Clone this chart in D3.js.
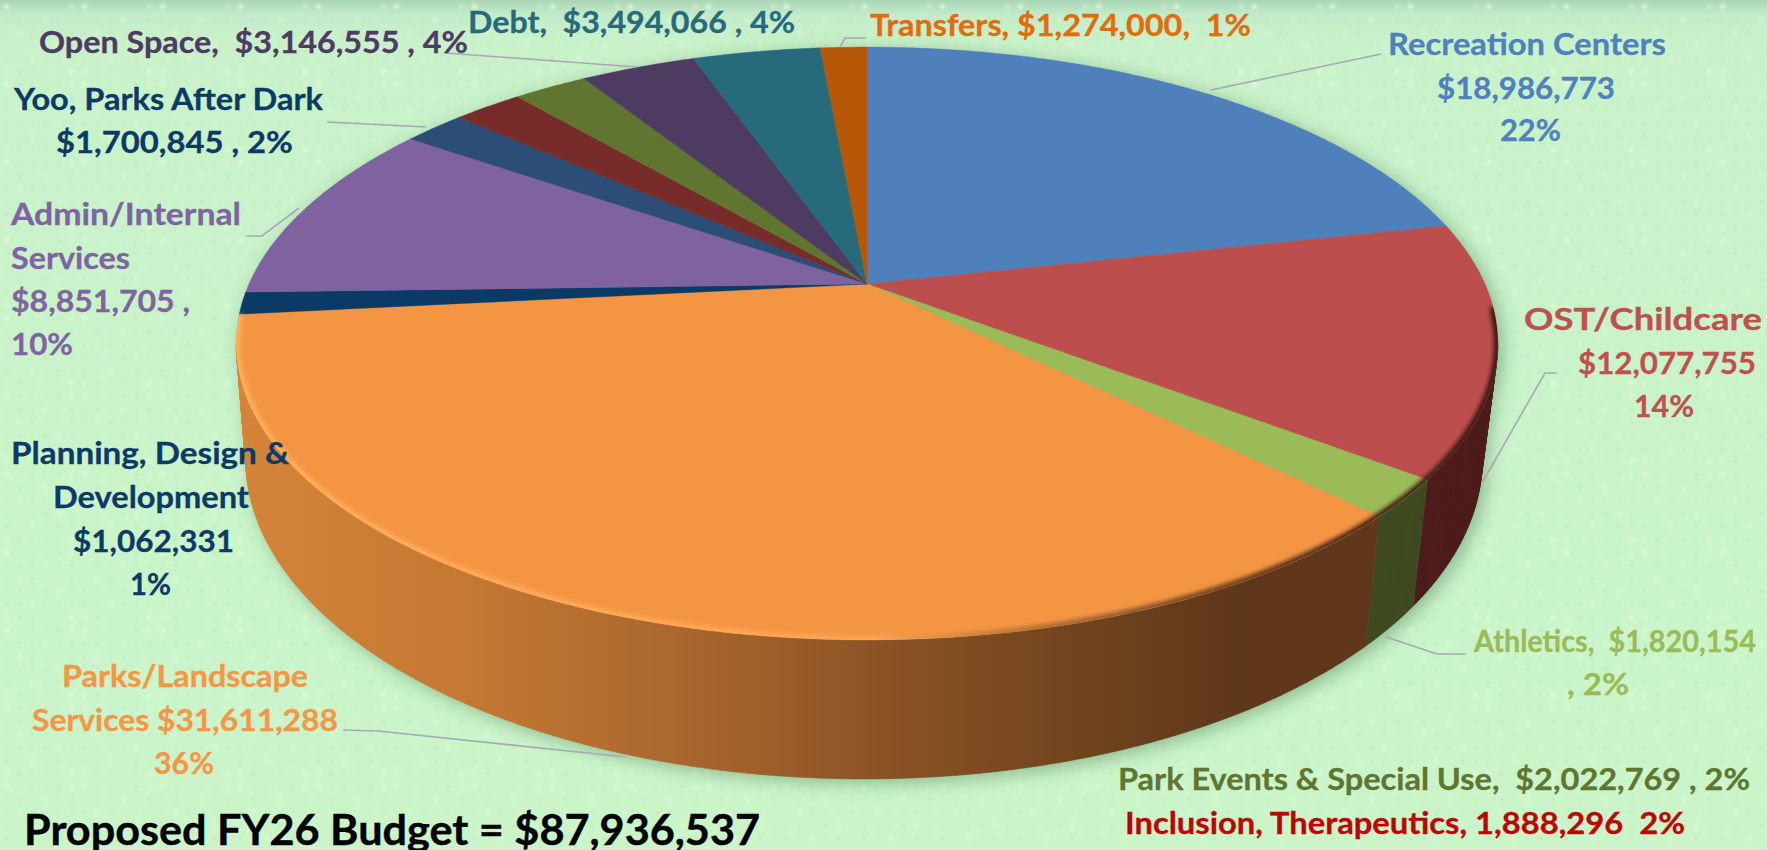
<!DOCTYPE html>
<html><head><meta charset="utf-8">
<script src="https://cdn.jsdelivr.net/npm/d3@7/dist/d3.min.js"></script>
<style>html,body{margin:0;padding:0;overflow:hidden;background:#c9f4c9}svg{display:block}text{font-family:Lato,"Noto Sans",sans-serif;font-weight:700}</style>
</head><body><svg id="c" width="1767" height="850"></svg>
<script>
const categories=["Recreation Centers","OST/Childcare","Athletics","Parks/Landscape Services","Planning, Design & Development","Admin/Internal Services","Yoo, Parks After Dark","Inclusion, Therapeutics","Park Events & Special Use","Open Space","Debt","Transfers"];
const budget=[18986773,12077755,1820154,31611288,1062331,8851705,1700845,1888296,2022769,3146555,3494066,1274000];
const topColors=["#4f80bc","#bc4f4d","#9bbb59","#f49544","#0c3a66","#7f62a0","#2c4d75","#772c2a","#5f7530","#4d3b62","#276a7c","#b65708"];
const wallColors=["#2c4a6e","#4e1c1b","#3f4a20","url(#orangeWall)","#07233e","#4c3c61","#1a2e46","#471a19","#39461d","#2e233b","#17404a","#6d3405"];
// label lines: [text, left, right, baseline] in reference pixels
const labels=[
 {c:"#4f81bd",l:[["Recreation Centers",1388,1666,55],["$18,986,773",1437,1615,99],["22%",1500,1561,141]]},
 {c:"#c0504d",l:[["OST/Childcare",1524,1762,330],["$12,077,755",1578,1756,374],["14%",1634,1694,417]]},
 {c:"#9bbb59",l:[["Athletics,  $1,820,154",1474,1756,652],[", 2%",1567,1629,695]]},
 {c:"#5f7530",l:[["Park Events & Special Use,  $2,022,769 , 2%",1118,1750,790]]},
 {c:"#c00000",l:[["Inclusion, Therapeutics, 1,888,296  2%",1125,1685,834]]},
 {c:"#f79646",l:[["Parks/Landscape",62,308,687],["Services $31,611,288",32,338,731],["36%",154,214,774]]},
 {c:"#0c3a66",l:[["Planning, Design &",11,289,464],["Development",53,249,508],["$1,062,331",73,234,552],["1%",130,171,595]]},
 {c:"#8064a2",l:[["Admin/Internal",11,241,225],["Services",11,130,269],["$8,851,705 ,",11,190,312],["10%",11,73,355]]},
 {c:"#0c3a66",l:[["Yoo, Parks After Dark",14,323,110],["$1,700,845 , 2%",56,293,153]]},
 {c:"#4d3b62",l:[["Open Space,  $3,146,555 , 4%",39,468,53]]},
 {c:"#276a7c",l:[["Debt,  $3,494,066 , 4%",468,795,33]]},
 {c:"#e36c0a",l:[["Transfers, $1,274,000,  1%",870,1251,36]]}
];
const title=["Proposed FY26 Budget = $87,936,537",24,760,845];
const leaders=[
 [[1381,54],[1211,90]],[[1557,373],[1545,373],[1482,483]],[[1466,654],[1437,654],[1386,637]],
 [[343,730],[378,731],[626,757]],[[246,236],[262,236],[299,208]],[[327,122],[426,127]],
 [[446,53],[637,67]],[[866,38],[845,38],[840,47]]
];
const cx=867,cy=284,R=618,B=284.5,k=0.2007,D=139,floorScale=0.98,floorShift=-3;
const project=(t,z=0)=>{const u=Math.sin(t),v=-Math.cos(t),w=1-k*v;return [cx+z*floorShift+R*u/w*(1-z*(1-floorScale)),cy+B*v/w+z*D*(1-k)/w];};
const svg=d3.select("#c"),defs=svg.append("defs");
const bg=defs.append("linearGradient").attr("id","bg").attr("x1",0).attr("y1",0).attr("x2",0).attr("y2",1);
[[0,"#aad6b6"],[.018,"#c4ecca"],[.05,"#c9f2ca"],[1,"#cbf5c9"]].forEach(s=>bg.append("stop").attr("offset",s[0]).attr("stop-color",s[1]));
const pat=defs.append("pattern").attr("id","dots").attr("width",78).attr("height",78).attr("patternUnits","userSpaceOnUse");
d3.range(6).forEach(i=>d3.range(6).forEach(j=>pat.append("circle").attr("cx",6.5+i*13).attr("cy",6.5+j*13).attr("r",(i+j*2)%5==0?3:1.6).attr("fill",(i+j*2)%5==0?"#e2f9d2":"#b4e2bc").attr("opacity",(i*3+j)%4==0?.7:.35)));
const ow=defs.append("linearGradient").attr("id","orangeWall").attr("gradientUnits","userSpaceOnUse").attr("x1",250).attr("x2",1370).attr("y1",0).attr("y2",0);
[[0,"#d38439"],[.2,"#c37833"],[.42,"#a4632d"],[.57,"#8a5225"],[.75,"#6f431e"],[.88,"#5f371a"],[1,"#60371a"]].forEach(s=>ow.append("stop").attr("offset",s[0]).attr("stop-color",s[1]));
const rim=defs.append("linearGradient").attr("id","rim").attr("gradientUnits","userSpaceOnUse").attr("x1",250).attr("x2",1497).attr("y1",0).attr("y2",0);
[[0,"#ffb060"],[.5,"#ffa555"],[.6,"#c47a3a"],[.75,"#7a4a22"],[.9,"#4a2018"],[1,"#3a1512"]].forEach(s=>rim.append("stop").attr("offset",s[0]).attr("stop-color",s[1]));
defs.append("filter").attr("id","b2").append("feGaussianBlur").attr("stdDeviation",2);
const df=defs.append("filter").attr("id","b1");df.append("feGaussianBlur").attr("stdDeviation",.9);
const sf=defs.append("filter").attr("id","b9").attr("x","-10%").attr("y","-10%").attr("width","120%").attr("height","120%");sf.append("feGaussianBlur").attr("stdDeviation",9);
svg.append("rect").attr("width",1767).attr("height",850).attr("fill","url(#bg)");
svg.append("rect").attr("width",1767).attr("height",850).attr("fill","url(#dots)").attr("filter","url(#b1)");
const pie=d3.pie().sort(null).value(d=>d)(budget);
const line=d3.line();
const arcPts=(a,b,z=0)=>{const n=Math.max(2,Math.ceil((b-a)/0.01));return d3.range(n+1).map(i=>project(a+(b-a)*i/n,z));};
const full=Math.PI*2;
const wallA=Math.acos(-k),wallB=full-wallA;
const wallPath=(a,b)=>{const t=arcPts(a,b,0),f=arcPts(a,b,1);return d3.range(t.length-1).map(i=>line([t[i],t[i+1],f[i+1],f[i]])+"Z").join("");};
// soft shadow
const shadow=svg.append("g").attr("filter","url(#b9)").attr("opacity",.5).attr("transform","translate(5,4)");
shadow.append("path").attr("d",wallPath(wallA-.02,wallB+.02)).attr("fill","#4d7c55");
shadow.append("path").attr("d",line(arcPts(0,full,0))+"Z").attr("fill","#4d7c55");
// walls
pie.forEach((p,i)=>{
  const a=Math.max(p.startAngle,wallA),b=Math.min(p.endAngle,wallB);
  if(b<=a)return;
  svg.append("path").attr("d",wallPath(a,b)).attr("fill",wallColors[i]).attr("stroke",wallColors[i]).attr("stroke-width",.6);
});
// top
const topG=svg.append("g");
pie.forEach((p,i)=>{
  topG.append("path").attr("d",line([[cx,cy],...arcPts(p.startAngle,p.endAngle)])+"Z").attr("fill",topColors[i]).attr("stroke",topColors[i]).attr("stroke-width",.4);
});
// bevel
defs.append("clipPath").attr("id","tc").append("path").attr("d",line(arcPts(0,full))+"Z");
svg.append("g").attr("clip-path","url(#tc)").append("path").attr("d",line(arcPts(1.65,pie[3].endAngle))).attr("fill","none").attr("stroke","url(#rim)").attr("stroke-width",8).attr("filter","url(#b2)");
// leaders
leaders.forEach(l=>svg.append("path").attr("d",line(l)).attr("fill","none").attr("stroke","#a8a8b4").attr("stroke-width",1.6));
// labels
labels.forEach(g=>g.l.forEach(t=>svg.append("text").attr("x",t[1]).attr("y",t[3]).attr("font-size",31).attr("fill",g.c).attr("stroke",g.c).attr("stroke-width",.3).attr("textLength",t[2]-t[1]).attr("lengthAdjust","spacingAndGlyphs").style("white-space","pre").text(t[0])));
svg.append("text").attr("x",title[1]).attr("y",title[3]).attr("font-size",41.5).attr("fill","#000").attr("stroke","#000").attr("stroke-width",.4).attr("textLength",title[2]-title[1]).attr("lengthAdjust","spacingAndGlyphs").text(title[0]);
</script></body></html>
